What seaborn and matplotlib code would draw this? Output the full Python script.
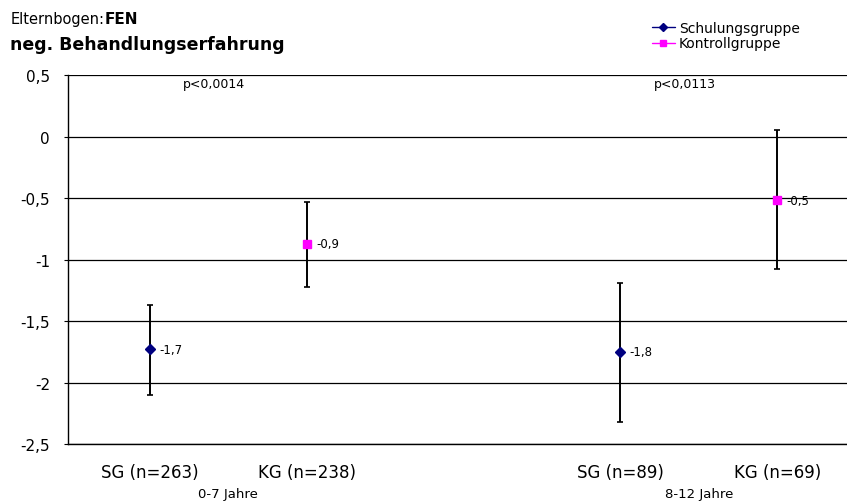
import matplotlib
matplotlib.use("Agg")
import matplotlib.pyplot as plt
import seaborn as sns
import numpy as np
from matplotlib.lines import Line2D

# values
groups = ["SG (n=263)", "KG (n=238)", "SG (n=89)", "KG (n=69)"]
series = ["Schulungsgruppe", "Kontrollgruppe", "Schulungsgruppe", "Kontrollgruppe"]
means = [-1.73, -0.87, -1.75, -0.52]
lower = [-2.10, -1.22, -2.32, -1.08]
upper = [-1.37, -0.53, -1.19, 0.05]
value_labels = ["-1,7", "-0,9", "-1,8", "-0,5"]
age_groups = ["0-7 Jahre", "8-12 Jahre"]
p_values = ["p<0,0014", "p<0,0113"]
y_ticks = [0.5, 0, -0.5, -1, -1.5, -2, -2.5]

series_style = {
    "Schulungsgruppe": {"color": "#000080", "marker": "D", "ms": 5},
    "Kontrollgruppe": {"color": "#ff00ff", "marker": "s", "ms": 6},
}

sns.set_style("white")
plt.rcParams["font.family"] = ["DejaVu Sans"]
plt.rcParams["text.color"] = "black"
plt.rcParams["xtick.color"] = "black"
plt.rcParams["ytick.color"] = "black"
plt.rcParams["xtick.labelcolor"] = "black"
plt.rcParams["ytick.labelcolor"] = "black"

fig = plt.figure(figsize=(8.47, 5.02), dpi=100)
ax = fig.add_axes([0.0803, 0.1135, 0.93, 0.7351])

# two groups per age block, one empty slot between blocks
xpos = np.array([i + (i // 2) for i in range(len(groups))], dtype=float)

for i in range(len(groups)):
    st = series_style[series[i]]
    ax.errorbar(xpos[i], means[i],
                yerr=[[means[i] - lower[i]], [upper[i] - means[i]]],
                fmt="none", ecolor="black", elinewidth=1.4, capsize=2.5, capthick=1.2, zorder=3)
    ax.plot(xpos[i], means[i], linestyle="none", marker=st["marker"], color=st["color"],
            markersize=st["ms"], zorder=4)
    ax.text(xpos[i] + 0.06, means[i], value_labels[i], fontsize=8.5, va="center", ha="left")

ax.set_ylim(-2.5, 0.5)
ax.set_xlim(-0.52, 4.5)
ax.set_yticks(y_ticks)
ax.set_yticklabels([f"{t:g}".replace(".", ",") for t in y_ticks], fontsize=11)
ax.yaxis.grid(True, color="black", linewidth=0.9)
ax.set_axisbelow(True)
ax.tick_params(axis="y", left=True, length=3, color="black", pad=10)

ax.set_xticks(xpos)
ax.set_xticklabels(groups, fontsize=12)
ax.tick_params(axis="x", bottom=False, pad=10)

for s in ["top", "right"]:
    ax.spines[s].set_visible(False)
for s in ["left", "bottom"]:
    ax.spines[s].set_color("black")
    ax.spines[s].set_linewidth(1.0)

# age block labels and p-values
for k, (age, p) in enumerate(zip(age_groups, p_values)):
    center = xpos[2 * k: 2 * k + 2].mean()
    ax.text(center, -0.135, age, transform=ax.get_xaxis_transform(), ha="center", va="center", fontsize=9.5)
    ax.text(center - 0.09, 0.43, p, ha="center", va="center", fontsize=9)

t1 = fig.text(0.012, 0.962, "Elternbogen:", fontsize=10.5, va="center", ha="left")
ax.annotate("FEN", xy=(1, 0.5), xycoords=t1, fontsize=11, fontweight="bold", va="center", ha="left")
fig.text(0.012, 0.91, "neg. Behandlungserfahrung", fontsize=12.5, fontweight="bold", va="center", ha="left")

handles = [Line2D([0], [0], color=series_style[n]["color"], marker=series_style[n]["marker"],
                  markersize=series_style[n]["ms"] - 1, linewidth=1)
           for n in ["Schulungsgruppe", "Kontrollgruppe"]]
fig.legend(handles, ["Schulungsgruppe", "Kontrollgruppe"], loc="upper left",
           bbox_to_anchor=(0.762, 0.97), frameon=False, fontsize=10,
           handlelength=1.6, handletextpad=0.3, labelspacing=0.1, borderpad=0)

fig.savefig("out.png", dpi=100)
